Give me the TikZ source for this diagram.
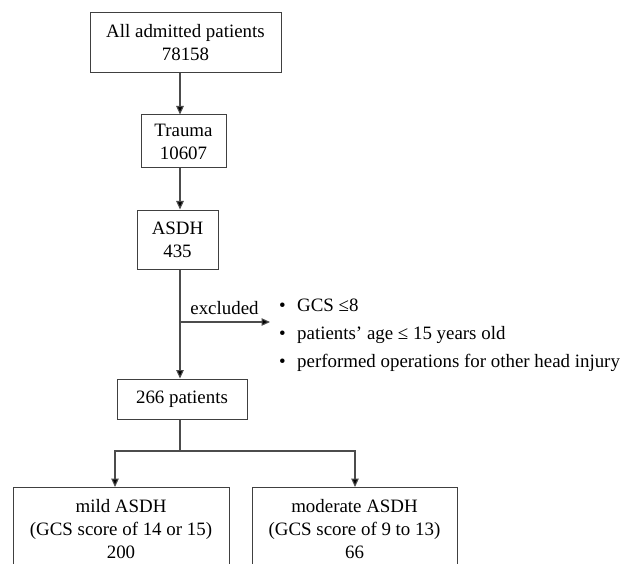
\documentclass[tikz,border=0pt]{standalone}
\usepackage{fontspec}
\setmainfont{Liberation Serif}
\usetikzlibrary{arrows.meta}
\begin{document}
\begin{tikzpicture}[x=1pt,y=-1pt,
  box/.style={draw=black!75, line width=1pt, align=center, inner sep=0pt, font=\fontsize{18.9}{23}\selectfont},
  txt/.style={inner sep=0pt, font=\fontsize{18.9}{23}\selectfont},
  conn/.style={draw=black!70, line width=1.1pt},
  arr/.style={conn, -{Triangle[width=7.5pt,length=8.5pt,fill=black]}}]
\useasboundingbox (0,0) rectangle (626,564);
\clip (0,0) rectangle (626,564);
\fill[white] (0,0) rectangle (626,564);
\coordinate (ax) at (180,0);
\node[box, minimum width=191pt, minimum height=60pt] (all) at (185.5,43) {All admitted patients\\78158};
\node[box, minimum width=85pt, minimum height=53pt] (trauma) at (183.5,141.5) {Trauma\\10607};
\node[box, minimum width=81pt, minimum height=59pt] (asdh) at (177.5,239.5) {ASDH\\435};
\node[box, minimum width=130pt, minimum height=40pt] (p266) at (182,399) {266 patients};
\node[box, anchor=north, minimum width=216pt, inner ysep=12.3pt] (mild) at (121,487) {mild ASDH\\(GCS score of 14 or 15)\\200};
\node[box, anchor=north, minimum width=205pt, inner ysep=12.3pt] (moderate) at (354.5,487) {moderate ASDH\\(GCS score of 9 to 13)\\66};
\draw[arr] (all.south -| ax) -- (trauma.north -| ax);
\draw[arr] (trauma.south -| ax) -- (asdh.north -| ax);
\draw[arr] (asdh.south -| ax) -- (p266.north -| ax);
\coordinate (exc) at (180,322);
\coordinate (excend) at (270,322);
\draw[arr] (exc) -- (excend);
\node[txt, anchor=base] (exlabel) at (224.5,314) {excluded};
\node[txt, anchor=base west] (c1) at (279,311) {\makebox[18pt][l]{•}GCS ≤8};
\node[txt, anchor=base west] (c2) at (279,339) {\makebox[18pt][l]{•}patients’ age ≤ 15 years old};
\node[txt, anchor=base west] (c3) at (279,367) {\makebox[18pt][l]{•}performed operations for other head injury};
\coordinate (split) at (180,451);
\coordinate (sl) at (115,451);
\coordinate (sr) at (355,451);
\draw[conn] (p266.south -| ax) -- (split);
\draw[arr] (split) -- (sl) -- (mild.north -| sl);
\draw[arr] (split) -- (sr) -- (moderate.north -| sr);
\end{tikzpicture}
\end{document}
